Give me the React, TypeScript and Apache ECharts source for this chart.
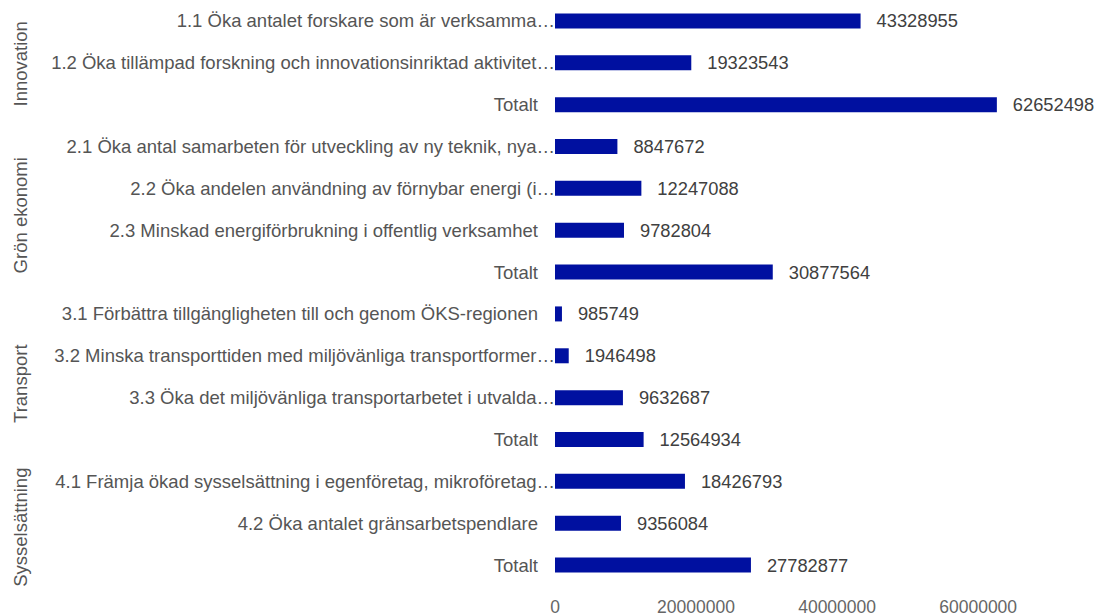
import React, { useEffect, useRef } from "react";
import * as echarts from "echarts";

const categories = [
  "1.1 Öka antalet forskare som är verksamma…",
  "1.2 Öka tillämpad forskning och innovationsinriktad aktivitet…",
  "Totalt",
  "2.1 Öka antal samarbeten för utveckling av ny teknik, nya…",
  "2.2 Öka andelen användning av förnybar energi (i…",
  "2.3 Minskad energiförbrukning i offentlig verksamhet",
  "Totalt",
  "3.1 Förbättra tillgängligheten till och genom ÖKS-regionen",
  "3.2 Minska transporttiden med miljövänliga transportformer…",
  "3.3 Öka det miljövänliga transportarbetet i utvalda…",
  "Totalt",
  "4.1 Främja ökad sysselsättning i egenföretag, mikroföretag…",
  "4.2 Öka antalet gränsarbetspendlare",
  "Totalt",
];

const values = [
  43328955, 19323543, 62652498, 8847672, 12247088, 9782804, 30877564, 985749,
  1946498, 9632687, 12564934, 18426793, 9356084, 27782877,
];

const groups = ["Innovation", "Grön ekonomi", "Transport", "Sysselsättning"];
const groupStart = [0, 3, 7, 11];
const groupEnd = [2, 6, 10, 13];
const groupShift = [1, 6, 7, 4];

const FONT = "'Liberation Sans', Arial, sans-serif";

export default function App() {
  const ref = useRef<HTMLDivElement>(null);
  useEffect(() => {
    if (!ref.current) return;
    const chart = echarts.init(ref.current, undefined, { renderer: "svg" });
    chart.setOption({
      animation: false,
      textStyle: { fontFamily: FONT },
      grid: { left: 555, right: 10, top: 0, height: 586, containLabel: false },
      xAxis: {
        type: "value",
        min: 0,
        max: 76000000,
        interval: 20000000,
        splitLine: { show: false },
        axisLine: { show: false },
        axisTick: { show: false },
        axisLabel: {
          showMaxLabel: false,
          color: "#666666",
          fontSize: 17.5,
          fontFamily: FONT,
          margin: 12,
          formatter: (v: number) => String(v),
        },
      },
      yAxis: {
        type: "category",
        inverse: true,
        data: categories,
        axisLine: { show: false },
        axisTick: { show: false },
        splitLine: { show: false },
        axisLabel: {
          margin: 0,
          interval: 0,
          formatter: (v: string) => (v.endsWith("…") ? `{e|${v}}` : `{t|${v}}`),
          rich: {
            t: { color: "#555555", fontSize: 18.5, fontFamily: FONT, padding: [0, 17, 0, 0] },
            e: { color: "#555555", fontSize: 18.5, fontFamily: FONT },
          },
        },
      },
      series: [
        {
          type: "bar",
          data: values,
          barWidth: 15,
          itemStyle: { color: "#0010a0" },
          label: {
            show: true,
            position: "right",
            distance: 16,
            color: "#404040",
            fontSize: 18.3,
            fontFamily: FONT,
          },
        },
      ],
    });
    const graphics = groups.map((g, i) => {
      const y0 = chart.convertToPixel({ yAxisIndex: 0 }, groupStart[i]) as number;
      const y1 = chart.convertToPixel({ yAxisIndex: 0 }, groupEnd[i]) as number;
      return {
        type: "text",
        x: 20,
        y: (y0 + y1) / 2 + groupShift[i],
        rotation: Math.PI / 2,
        style: {
          text: g,
          fill: "#555555",
          fontSize: 18.5,
          fontFamily: FONT,
          align: "center",
          verticalAlign: "middle",
        },
      };
    });
    chart.setOption({ graphic: graphics });
    return () => chart.dispose();
  }, []);
  return (
    <div
      ref={ref}
      style={{ position: "absolute", left: 0, top: 0, width: 1101, height: 616 }}
    />
  );
}
